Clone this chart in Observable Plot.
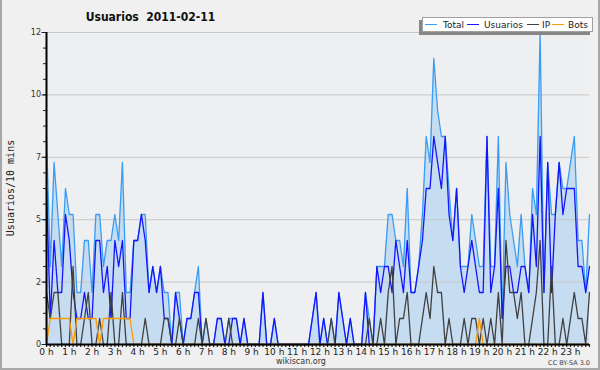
<!DOCTYPE html>
<html><head><meta charset="utf-8">
<script src="https://cdn.jsdelivr.net/npm/d3@7"></script>
<script src="https://cdn.jsdelivr.net/npm/@observablehq/plot@0.6"></script>
<style>
html,body{margin:0;padding:0;background:#f0f0f0;}
#wrap{position:relative;width:600px;height:370px;overflow:hidden;}
#wrap svg{position:absolute;left:0;top:0;}
#frameBorder{position:absolute;left:0;top:0;width:596px;height:368px;border-left:2px solid #a8a8a8;border-right:2px solid #a8a8a8;border-bottom:2px solid #a8a8a8;pointer-events:none;}
</style>
</head><body>
<div id="wrap"><div id="chart"></div>
<svg id="overlay" width="600" height="370" style="pointer-events:none"></svg>
<div id="frameBorder"></div></div>
<script>
// ---- data (users per 10-minute slot, 2011-02-11) ----
const total = [
  8,3,7,5,3,6,5,5,2,2,
  4,4,2,5,5,3,4,4,5,4,
  7,2,2,4,4,5,5,2,3,2,
  3,2,2,0,2,2,0,1,1,2,
  3,0,1,0,0,1,1,0,1,1,
  1,0,1,0,0,0,0,2,0,0,
  1,0,0,0,0,0,0,0,0,0,
  1,2,0,1,0,1,0,2,1,0,
  1,0,0,0,2,1,0,3,3,3,
  5,5,4,4,3,6,2,2,3,5,
  8,7,11,9,8,8,6,4,6,3,
  3,3,5,4,3,3,8,3,3,8,
  1,7,5,4,3,5,3,2,6,5,
  12,2,7,5,5,7,6,6,7,8,
  4,4,2,5];
const usuarios = [
  6,1,4,2,2,5,4,2,1,1,
  2,1,1,4,4,2,3,1,4,3,
  4,1,1,4,4,5,4,2,3,2,
  3,1,1,0,2,1,0,1,1,2,
  2,0,0,0,0,1,1,0,0,1,
  1,0,1,0,0,0,0,2,0,0,
  1,0,0,0,0,0,0,0,0,0,
  1,2,0,1,0,0,0,2,1,0,
  1,0,0,0,2,0,0,3,2,3,
  3,2,4,3,2,4,2,2,3,4,
  6,6,8,7,6,8,5,4,6,3,
  2,3,4,3,2,2,8,2,3,6,
  1,3,3,2,2,3,3,2,5,3,
  8,2,7,2,5,7,5,6,6,6,
  3,3,2,3];
const ip = [
  2,1,2,2,0,0,0,3,0,0,
  1,2,0,0,1,0,0,2,0,0,
  2,0,0,0,0,0,1,0,0,0,
  0,1,1,0,0,1,0,0,0,0,
  1,0,1,0,0,0,0,0,1,0,
  0,0,0,0,0,0,0,0,0,0,
  0,0,0,0,0,0,0,0,0,0,
  0,0,0,0,0,1,0,0,0,0,
  0,0,0,0,0,1,0,0,1,0,
  2,3,0,1,1,2,0,0,0,1,
  2,1,3,2,2,0,1,0,0,0,
  1,0,1,1,0,1,0,1,0,2,
  0,4,2,2,1,2,0,0,1,2,
  4,0,0,3,0,0,1,0,1,2,
  1,1,0,2];
const bots = [
  0,1,1,1,1,1,1,0,1,1,
  1,1,1,1,0,1,1,1,1,1,
  1,1,1,0,0,0,0,0,0,0,
  0,0,0,0,0,0,0,0,0,0,
  0,0,0,0,0,0,0,0,0,0,
  0,0,0,0,0,0,0,0,0,0,
  0,0,0,0,0,0,0,0,0,0,
  0,0,0,0,0,0,0,0,0,0,
  0,0,0,0,0,0,0,0,0,0,
  0,0,0,0,0,0,0,0,0,0,
  0,0,0,0,0,0,0,0,0,0,
  0,0,0,0,1,0,0,0,0,0,
  0,0,0,0,0,0,0,0,0,0,
  0,0,0,0,0,0,0,0,0,0,
  0,0,0,0];
const hourLabels = ["0 h","1 h","2 h","3 h","4 h","5 h","6 h","7 h","8 h","9 h","10 h","11 h",
  "12 h","13 h","14 h","15 h","16 h","17 h","18 h","19 h","20 h","21 h","22 h","23 h"];
const yTicks = [0, 2.4, 4.8, 7.2, 9.6, 12];
const yTickLabels = ["0", "2", "5", "7", "10", "12"];
const seriesNames = ["Total", "Usuarios", "IP", "Bots"];
const seriesColors = ["#3a9cf2", "#1414ff", "#404040", "#ff9900"];
const titleText = "Usuarios  2011-02-11";
const yLabelText = "Usuarios/10 mins";

// ---- chart ----
const slots = total.map((_, i) => i);
const slotsPerHour = slots.length / hourLabels.length;
const yLabelMap = new Map(yTicks.map((t, k) => [t, yTickLabels[k]]));
const yMinor = d3.range(0, 21).map(k => k * (yTicks[1] / 4));
const series = [total, usuarios, ip, bots];

const chart = Plot.plot({
  width: 600, height: 370,
  marginLeft: 46, marginRight: 11, marginTop: 32, marginBottom: 26,
  style: {background: "transparent", fontFamily: "DejaVu Sans", color: "#222", overflow: "visible"},
  x: {domain: [0, slots.length - 1], axis: null},
  y: {domain: [0, yTicks[yTicks.length - 1]], axis: null},
  marks: [
    Plot.frame({fill: "#eeeff1", stroke: null}),
    Plot.areaY(slots, {x: d => d, y: d => total[d], fill: "#c6dcf0"}),
    Plot.ruleY(yTicks.slice(1), {stroke: "#c8c8c8", strokeWidth: 1}),
    ...series.map((s, k) => Plot.lineY(slots, {x: d => d, y: d => s[d], stroke: seriesColors[k], strokeWidth: 1.3})),
    Plot.axisX({ticks: slots, tickSize: 3, tickPadding: 1, strokeWidth: 1.2, fontSize: 9,
      tickFormat: d => d % slotsPerHour === 0 ? hourLabels[d / slotsPerHour] : ""}),
    Plot.axisY({ticks: yMinor, tickSize: 3, strokeWidth: 1, tickFormat: () => ""}),
    Plot.axisY({ticks: yTicks, tickSize: 4.5, tickPadding: 1, strokeWidth: 1, fontSize: 8, fill: "#333",
      tickFormat: d => yLabelMap.get(d)}),
    Plot.ruleX([0], {stroke: "#000", strokeWidth: 2}),
    Plot.ruleY([0], {stroke: "#000", strokeWidth: 2})
  ]
});
document.getElementById("chart").appendChild(chart);

// ---- title, legend, labels ----
const ns = "http://www.w3.org/2000/svg";
const ov = document.getElementById("overlay");
function el(tag, attrs, text) {
  const e = document.createElementNS(ns, tag);
  for (const k in attrs) e.setAttribute(k, attrs[k]);
  if (text != null) e.textContent = text;
  ov.appendChild(e);
  return e;
}
el("text", {x: 150.5, y: 20.5, "text-anchor": "middle", "font-family": "DejaVu Sans Condensed, DejaVu Sans",
  "font-weight": "bold", "font-size": 12, fill: "#111", style: "white-space:pre"}, titleText);
el("text", {transform: "translate(14,188) rotate(-90)", "text-anchor": "middle",
  "font-family": "DejaVu Sans Mono", "font-size": 10, fill: "#222"}, yLabelText);
el("text", {x: 301, y: 364, "text-anchor": "middle", "font-family": "DejaVu Sans", "font-size": 8, fill: "#333"}, "wikiscan.org");
el("text", {x: 590, y: 364.5, "text-anchor": "end", "font-family": "DejaVu Sans", "font-size": 6.5, fill: "#444"}, "CC BY-SA 3.0");
// legend box with shadow
el("rect", {x: 419, y: 20, width: 171, height: 15, fill: "#868686"});
el("rect", {x: 422.5, y: 17.5, width: 170, height: 14, fill: "#ffffff", stroke: "#a0a0a0", "stroke-width": 1});
const lineStarts = [425, 467, 527, 552];
const textStarts = [443, 484, 542, 568];
seriesNames.forEach((name, k) => {
  el("line", {x1: lineStarts[k], x2: lineStarts[k] + 12, y1: 24.5, y2: 24.5, stroke: seriesColors[k], "stroke-width": 1});
  el("text", {x: textStarts[k], y: 27.5, "font-family": "DejaVu Sans", "font-size": 9, fill: "#222"}, name);
});
</script>
</body></html>
